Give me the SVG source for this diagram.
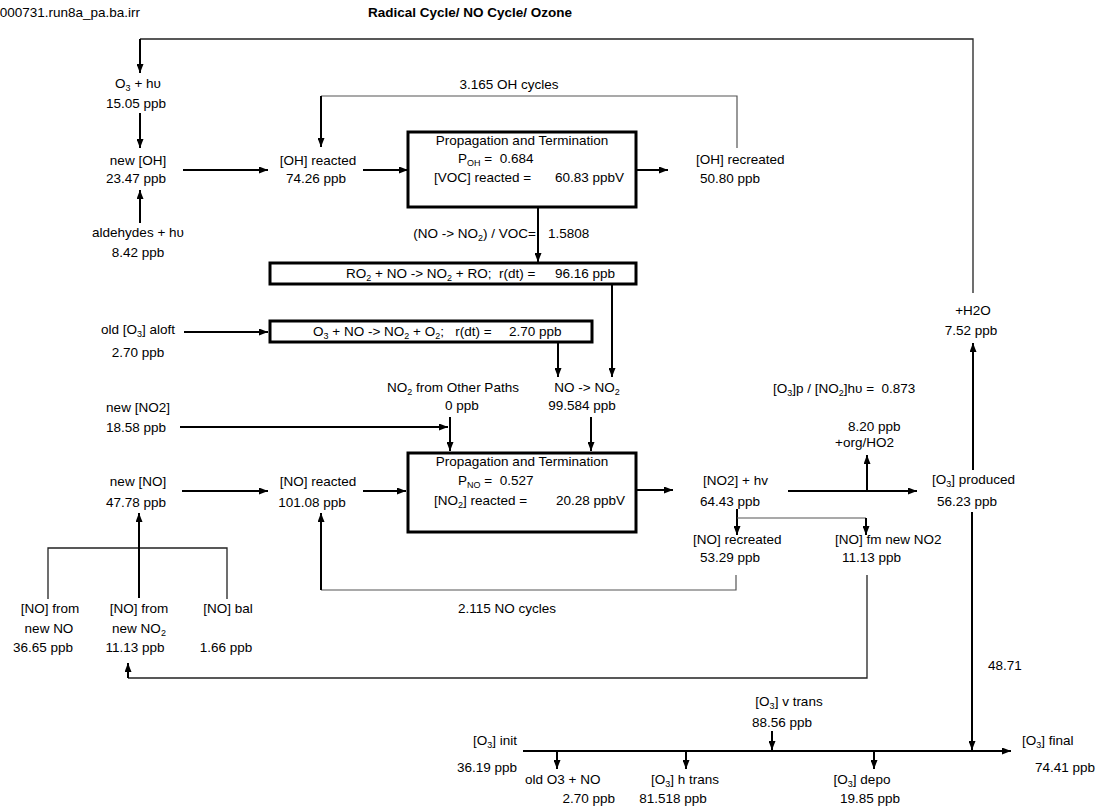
<svg xmlns="http://www.w3.org/2000/svg" width="1099" height="811" viewBox="0 0 1099 811">
<style>
text{font-family:"Liberation Sans",Arial,sans-serif;font-size:13.5px;fill:#000}
.m{text-anchor:middle}
.e{text-anchor:end}
.b{font-weight:bold}
.box{fill:#fff;stroke:#000;stroke-width:3}
.ar{stroke:#000;stroke-width:2;fill:none;marker-end:url(#ah)}
.ln{stroke:#000;stroke-width:2;fill:none}
.th{stroke:#555;stroke-width:1.2;fill:none}
.tk{stroke:#222;stroke-width:1.3;fill:none}
.s{font-size:9px}
</style>
<defs>
<marker id="ah" markerWidth="9" markerHeight="7" refX="9" refY="3.5" orient="auto" markerUnits="userSpaceOnUse"><path d="M0,0 L9,3.5 L0,7 z" fill="#000"/></marker>
</defs>
<rect width="1099" height="811" fill="#fff"/>
<text x="140" y="17" class="e">000731.run8a_pa.ba.irr</text>
<text x="368" y="17" class="b">Radical Cycle/ NO Cycle/ Ozone</text>

<g id="connectors">
<polyline class="tk" points="973,293 973,39 140,39"/>
<line class="ar" x1="140" y1="39" x2="140" y2="73"/>
<line class="ar" x1="140" y1="113" x2="140" y2="148"/>
<line class="ar" x1="140" y1="223" x2="140" y2="190"/>
<line class="ar" x1="183" y1="170" x2="268" y2="170"/>
<line class="ar" x1="363" y1="170" x2="408" y2="170"/>
<line class="ar" x1="636" y1="170" x2="668" y2="170"/>
<polyline class="th" points="737,148 737,96 321,96"/>
<line class="ar" x1="321" y1="96" x2="321" y2="147"/>
<line class="ar" x1="538" y1="207" x2="538" y2="262"/>
<line class="ar" x1="612" y1="284" x2="612" y2="377"/>
<line class="ar" x1="184" y1="332" x2="268" y2="332"/>
<line class="ar" x1="558" y1="342" x2="558" y2="377"/>
<line class="ar" x1="180" y1="427" x2="448" y2="427"/>
<line class="ar" x1="450" y1="417" x2="450" y2="451"/>
<line class="ar" x1="591" y1="417" x2="591" y2="451"/>
<line class="ar" x1="182" y1="491" x2="268" y2="491"/>
<line class="ar" x1="363" y1="491" x2="406" y2="491"/>
<line class="ar" x1="636" y1="490" x2="673" y2="490"/>
<line class="ar" x1="788" y1="491" x2="917" y2="491"/>
<line class="ar" x1="867" y1="491" x2="867" y2="455"/>
<line class="ar" x1="973" y1="470" x2="973" y2="343"/>
<line class="ar" x1="737" y1="509" x2="737" y2="535"/>
<line class="th" x1="737" y1="518" x2="866" y2="518"/>
<line class="ar" x1="866" y1="518" x2="866" y2="535"/>
<polyline class="th" points="736,575 736,590 321,590"/>
<line class="ar" x1="321" y1="590" x2="321" y2="513"/>
<polyline class="tk" points="867,575 867,678 128,678"/>
<line class="ar" x1="128" y1="678" x2="128" y2="663"/>
<polyline class="tk" points="48,599 48,548 227,548 227,599"/>
<line class="ar" x1="139" y1="598" x2="139" y2="513"/>
<line class="ar" x1="972" y1="512" x2="972" y2="750"/>
<line class="ar" x1="523" y1="751" x2="1011" y2="751"/>
<line class="ar" x1="772" y1="731" x2="772" y2="750"/>
<line class="ar" x1="557" y1="752" x2="557" y2="769"/>
<line class="ar" x1="686" y1="752" x2="686" y2="769"/>
<line class="ar" x1="874" y1="752" x2="874" y2="769"/>
</g>

<g id="o3hv"><text x="138" y="88" class="m">O<tspan class="s" dy="3">3</tspan><tspan dy="-3"> + hυ</tspan></text><text x="136" y="108" class="m">15.05 ppb</text></g>
<g id="newoh"><text x="138" y="165" class="m">new [OH]</text><text x="136" y="183" class="m">23.47 ppb</text></g>
<g id="ald"><text x="138" y="237" class="m">aldehydes + hυ</text><text x="138" y="257" class="m">8.42 ppb</text></g>
<g id="ohreact"><text x="318" y="165" class="m">[OH] reacted</text><text x="316" y="183" class="m">74.26 ppb</text></g>
<g id="ohcyc"><text x="509" y="89" class="m">3.165 OH cycles</text></g>
<g id="ohbox"><rect class="box" x="408" y="132" width="228" height="75"/>
<text x="522" y="145" class="m">Propagation and Termination</text>
<text x="458" y="163">P<tspan class="s" dy="3">OH</tspan><tspan dy="-3"> =&#160; 0.684</tspan></text>
<text x="434" y="182">[VOC] reacted =</text><text x="555" y="182">60.83 ppbV</text></g>
<g id="ohrec"><text x="696" y="164">[OH] recreated</text><text x="700" y="183">50.80 ppb</text></g>
<g id="ratio"><text x="536" y="238" class="e">(NO -&gt; NO<tspan class="s" dy="3">2</tspan><tspan dy="-3">) / VOC=</tspan></text><text x="548" y="238">1.5808</text></g>
<g id="ro2box"><rect class="box" x="270" y="263" width="366" height="21"/>
<text x="346" y="278">RO<tspan class="s" dy="3">2</tspan><tspan dy="-3"> + NO -&gt; NO</tspan><tspan class="s" dy="3">2</tspan><tspan dy="-3"> + RO;&#160; r(dt) =</tspan></text><text x="555" y="278">96.16 ppb</text></g>
<g id="o3aloft"><text x="138" y="334" class="m">old [O<tspan class="s" dy="3">3</tspan><tspan dy="-3">] aloft</tspan></text><text x="138" y="357" class="m">2.70 ppb</text></g>
<g id="o3box"><rect class="box" x="270" y="321" width="322" height="21"/>
<text x="313" y="336">O<tspan class="s" dy="3">3</tspan><tspan dy="-3"> + NO -&gt; NO</tspan><tspan class="s" dy="3">2</tspan><tspan dy="-3"> + O</tspan><tspan class="s" dy="3">2</tspan><tspan dy="-3">;&#160;&#160; r(dt) =</tspan></text><text x="509" y="336">2.70 ppb</text></g>
<g id="other"><text x="453" y="392" class="m">NO<tspan class="s" dy="3">2</tspan><tspan dy="-3"> from Other Paths</tspan></text><text x="462" y="410" class="m">0 ppb</text></g>
<g id="nono2"><text x="587" y="392" class="m">NO -&gt; NO<tspan class="s" dy="3">2</tspan></text><text x="582" y="410" class="m">99.584 ppb</text></g>
<g id="newno2"><text x="138" y="412" class="m">new [NO2]</text><text x="136" y="432" class="m">18.58 ppb</text></g>
<g id="newno"><text x="138" y="486" class="m">new [NO]</text><text x="136" y="507" class="m">47.78 ppb</text></g>
<g id="noreact"><text x="318" y="486" class="m">[NO] reacted</text><text x="312" y="507" class="m">101.08 ppb</text></g>
<g id="nobox"><rect class="box" x="408" y="453" width="228" height="79"/>
<text x="522" y="466" class="m">Propagation and Termination</text>
<text x="458" y="485">P<tspan class="s" dy="3">NO</tspan><tspan dy="-3"> =&#160; 0.527</tspan></text>
<text x="434" y="505">[NO<tspan class="s" dy="3">2</tspan><tspan dy="-3">] reacted =</tspan></text><text x="556" y="505">20.28 ppbV</text></g>
<g id="no2hv"><text x="703" y="485">[NO2] + hv</text><text x="700" y="506">64.43 ppb</text></g>
<g id="ratio2"><text x="773" y="393">[O<tspan class="s" dy="3">3</tspan><tspan dy="-3">]p / [NO</tspan><tspan class="s" dy="3">2</tspan><tspan dy="-3">]hυ =&#160; 0.873</tspan></text></g>
<g id="org"><text x="848" y="431">8.20 ppb</text><text x="835" y="447">+org/HO2</text></g>
<g id="h2o"><text x="973" y="315" class="m">+H2O</text><text x="971" y="335" class="m">7.52 ppb</text></g>
<g id="o3prod"><text x="932" y="484">[O<tspan class="s" dy="3">3</tspan><tspan dy="-3">] produced</tspan></text><text x="937" y="506">56.23 ppb</text></g>
<g id="norec"><text x="693" y="544">[NO] recreated</text><text x="700" y="562">53.29 ppb</text></g>
<g id="nofm"><text x="835" y="544">[NO] fm new NO2</text><text x="842" y="562">11.13 ppb</text></g>
<g id="nocyc"><text x="458" y="613">2.115 NO cycles</text></g>
<g id="fromno"><text x="50" y="613" class="m">[NO] from</text><text x="49" y="633" class="m">new NO</text><text x="43" y="652" class="m">36.65 ppb</text></g>
<g id="fromno2"><text x="139" y="613" class="m">[NO] from</text><text x="139" y="633" class="m">new NO<tspan class="s" dy="3">2</tspan></text><text x="135" y="652" class="m">11.13 ppb</text></g>
<g id="nobal"><text x="228" y="613" class="m">[NO] bal</text><text x="226" y="652" class="m">1.66 ppb</text></g>
<g id="v4871"><text x="988" y="670">48.71</text></g>
<g id="vtrans"><text x="789" y="706" class="m">[O<tspan class="s" dy="3">3</tspan><tspan dy="-3">] v trans</tspan></text><text x="782" y="727" class="m">88.56 ppb</text></g>
<g id="init"><text x="517" y="745" class="e">[O<tspan class="s" dy="3">3</tspan><tspan dy="-3">] init</tspan></text><text x="517" y="772" class="e">36.19 ppb</text></g>
<g id="final"><text x="1022" y="745">[O<tspan class="s" dy="3">3</tspan><tspan dy="-3">] final</tspan></text><text x="1095" y="772" class="e">74.41 ppb</text></g>
<g id="oldo3"><text x="525" y="784">old O3 + NO</text><text x="615" y="803" class="e">2.70 ppb</text></g>
<g id="htrans"><text x="685" y="784" class="m">[O<tspan class="s" dy="3">3</tspan><tspan dy="-3">] h trans</tspan></text><text x="673" y="803" class="m">81.518 ppb</text></g>
<g id="depo"><text x="862" y="784" class="m">[O<tspan class="s" dy="3">3</tspan><tspan dy="-3">] depo</tspan></text><text x="870" y="803" class="m">19.85 ppb</text></g>
</svg>
